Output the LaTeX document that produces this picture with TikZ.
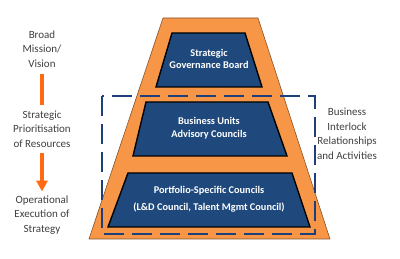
\documentclass[tikz,border=0pt]{standalone}
\usepackage{fontspec}
\setmainfont{Carlito}
\usetikzlibrary{arrows.meta}
\definecolor{orng}{HTML}{F79646}
\definecolor{navybox}{HTML}{1F497D}
\definecolor{dashc}{HTML}{1F3F7A}
\definecolor{arrc}{HTML}{FF6A13}
\definecolor{txtc}{HTML}{404040}
\tikzset{
  lefttext/.style={align=center, text=txtc, font=\fontsize{11}{14.5}\selectfont, inner sep=0pt},
  boxshape/.style={fill=navybox, draw=black, line width=1.4pt, line join=miter},
  boxtext/.style={align=center, text=white, font=\bfseries\fontsize{10.3}{12.5}\selectfont, inner sep=0pt},
  interlock/.style={draw=dashc, line width=2.4pt, dash pattern=on 20pt off 8pt},
  orangearrow/.style={draw=arrc, line width=4pt}
}
\begin{document}
\begin{tikzpicture}[x=1pt,y=-1pt]
\useasboundingbox (0,0) rectangle (400,259);
\fill[white] (0,0) rectangle (400,259);
% pyramid
\draw[fill=orng, draw=orng!55!black, line width=0.6pt] (163,18) -- (258,18) -- (330,239) -- (89,239) -- cycle;
% interlock dashed frame
\draw[interlock] (102,96) rectangle (315,234);
% boxes
\draw[boxshape] (172,33) -- (245,33) -- (262,87) -- (156,87) -- cycle;
\draw[boxshape] (146,102) -- (268,102) -- (287,156) -- (133,156) -- cycle;
\draw[boxshape] (128,173) -- (292,173) -- (310,227) -- (108,227) -- cycle;
\node[boxtext] (sgb) at (209,59) {Strategic\\Governance Board};
\node[boxtext] (bua) at (209,128) {Business Units\\Advisory Councils};
\node[boxtext] (psc) at (209,191) {Portfolio-Specific Councils};
\node[boxtext] (ldc) at (209,208) {(L\&D Council, Talent Mgmt Council)};
% left column
\node[lefttext] (mission) at (42,49) {Broad\\Mission/\\Vision};
\node[lefttext] (prior) at (42,129) {Strategic\\Prioritisation\\of Resources};
\node[lefttext] (oper) at (42,215) {Operational\\Execution of\\Strategy};
\draw[orangearrow] ([yshift=-6pt]mission.south) -- ([yshift=5pt]prior.north);
\draw[orangearrow, -{Triangle[width=11pt,length=11pt]}] ([yshift=-5pt]prior.south) -- ([yshift=4pt]oper.north);
% right text
\node[lefttext] (bir) at (347,134) {Business\\Interlock\\Relationships\\and Activities};
\end{tikzpicture}
\end{document}
